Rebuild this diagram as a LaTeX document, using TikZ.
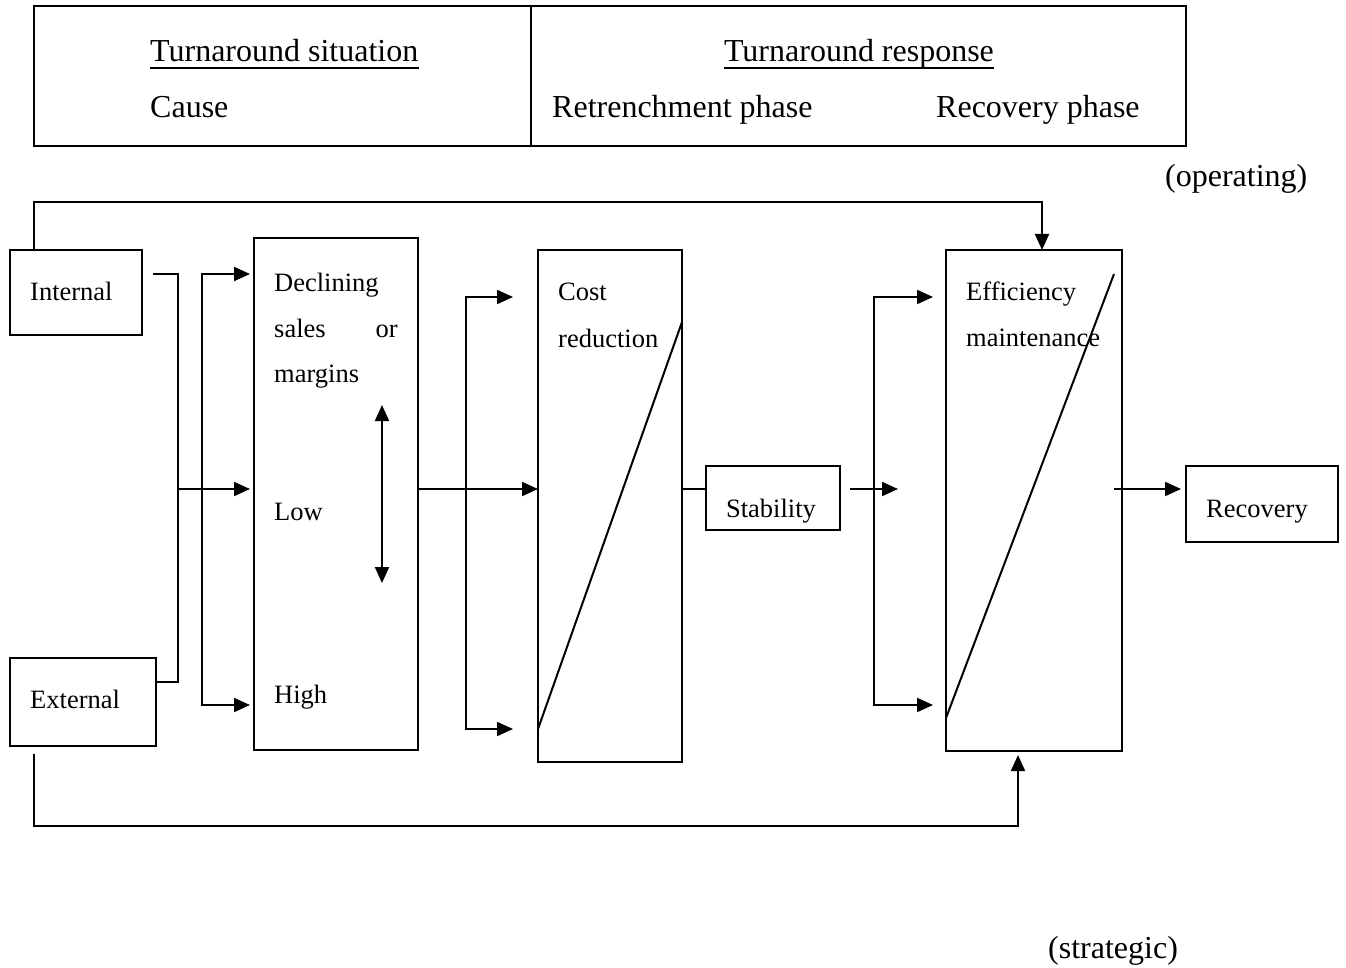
\documentclass[tikz,border=0pt]{standalone}
\usepackage{fontspec}
\setmainfont{Liberation Serif}
\usetikzlibrary{arrows.meta}
\begin{document}
\begin{tikzpicture}[x=1pt,y=-1pt,
  box/.style={draw, line width=2.2pt, inner sep=0pt, outer sep=0pt, rectangle},
  conn/.style={line width=2pt},
  arr/.style={conn, -{Triangle[length=16pt,width=14pt]}},
  arrboth/.style={conn, {Triangle[length=16pt,width=14pt]}-{Triangle[length=16pt,width=14pt]}},
  big/.style={font=\fontsize{32}{38}\selectfont, inner sep=0pt, anchor=base west},
  small/.style={font=\fontsize{26.5}{32}\selectfont, inner sep=0pt, anchor=base west},
  uline/.style={line width=1.8pt},
]
\useasboundingbox (0,0) rectangle (1346,968);
\fill[white] (0,0) rectangle (1346,968);

% header
\node[box, minimum width=1152pt, minimum height=140pt] (hdr) at (610,76) {};
\coordinate (div) at (531,6);
\draw[line width=2.2pt] (div) -- (div |- hdr.south);
\node[big] (ts) at (150,62) {Turnaround situation};
\draw[uline] ([yshift=-6pt]ts.base west) -- ([yshift=-6pt]ts.base east);
\node[big] (cause) at (150,118) {Cause};
\node[big, anchor=base] (tr) at (859,62) {Turnaround response};
\draw[uline] ([yshift=-6pt]tr.base west) -- ([yshift=-6pt]tr.base east);
\node[big] (rp) at (552,118) {Retrenchment phase};
\node[big] (recp) at (936,118) {Recovery phase};
\node[big] (op) at (1165,187) {(operating)};
\node[big] (st) at (1048,958) {(strategic)};

% boxes
\node[box, minimum width=132pt, minimum height=85pt] (int) at (76,292.5) {};
\node[box, minimum width=146pt, minimum height=88pt] (ext) at (83,702) {};
\node[box, minimum width=164pt, minimum height=512pt] (dec) at (336,494) {};
\node[box, minimum width=144pt, minimum height=512pt] (cost) at (610,506) {};
\node[box, minimum width=134pt, minimum height=64pt] (stab) at (773,498) {};
\node[box, minimum width=176pt, minimum height=501pt] (eff) at (1034,500.5) {};
\node[box, minimum width=152pt, minimum height=76pt] (rec) at (1262,504) {};

% texts
\node[small] (tint) at (30,301) {Internal};
\node[small] (text) at (30,708) {External};
\node[small] (tdec1) at (274,291) {Declining};
\node[small] (tdec2) at (274,337) {sales};
\node[small, anchor=base east] (tdec3) at (398,337) {or};
\node[small] (tdec4) at (274,382) {margins};
\node[small] (tlow) at (274,520) {Low};
\node[small] (thigh) at (274,703) {High};
\node[small] (tcost1) at (558,301) {Cost};
\node[small] (tcost2) at (558,347) {reduction};
\node[small] (teff1) at (966,300) {Efficiency};
\node[small] (teff2) at (966,346) {maintenance};
\node[small, anchor=base] (tstab) at (771,517) {Stability};
\node[small, anchor=base] (trec) at (1257,517) {Recovery};

% diagonals
\coordinate (cd1) at (538,729);
\coordinate (cd2) at (682,322);
\draw[conn] (cd1) -- (cd2);
\coordinate (ed1) at (946,718);
\coordinate (ed2) at (1114,274);
\draw[conn] (ed1) -- (ed2);

% connectors
\coordinate (mid) at (0,489);
% operating loop
\coordinate (optop) at (34,202);
\draw[arr] (int.north -| optop) -- (optop) -| ([xshift=96pt]eff.north west);
% strategic loop
\coordinate (stlow) at (34,826);
\coordinate (ststart) at (34,754);
\draw[arr] (ststart) -- (stlow) -| ([xshift=72pt,yshift=-4pt]eff.south west);
% causes bus
\coordinate (intout) at (153,274);
\coordinate (b1top) at (178,274);
\coordinate (b1bot) at (178,682);
\draw[conn] (intout) -- (b1top) -- (b1bot) -- (ext.east |- b1bot);
\coordinate (b1mid) at (178,489);
\draw[arr] (b1mid) -- ([xshift=-4pt]dec.west |- mid);
% second bus
\coordinate (d1) at (250,274);
\coordinate (d2) at (250,705);
\coordinate (b2) at (202,490);
\draw[arrboth] (d1) -| (b2) |- (d2);
% double arrow in declining box
\coordinate (da1) at (382,405);
\coordinate (da2) at (382,583);
\draw[arrboth] (da1) -- (da2);
% declining -> cost
\draw[arr] (dec.east |- mid) -- (cost.west |- mid);
% cost bus
\coordinate (c1) at (513,297);
\coordinate (c2) at (513,729);
\coordinate (b3) at (466,500);
\draw[arrboth] (c1) -| (b3) |- (c2);
% cost -> stability
\draw[conn] (cost.east |- mid) -- (stab.west |- mid);
% stability out
\coordinate (so1) at (850,489);
\coordinate (so2) at (898,489);
\draw[arr] (so1) -- (so2);
% efficiency bus
\coordinate (e1) at (933,297);
\coordinate (e2) at (933,705);
\coordinate (b4) at (874,500);
\draw[arrboth] (e1) -| (b4) |- (e2);
% efficiency -> recovery
\coordinate (eo) at (1114,489);
\draw[arr] (eo) -- ([xshift=-5pt]rec.west |- mid);
\end{tikzpicture}
\end{document}
